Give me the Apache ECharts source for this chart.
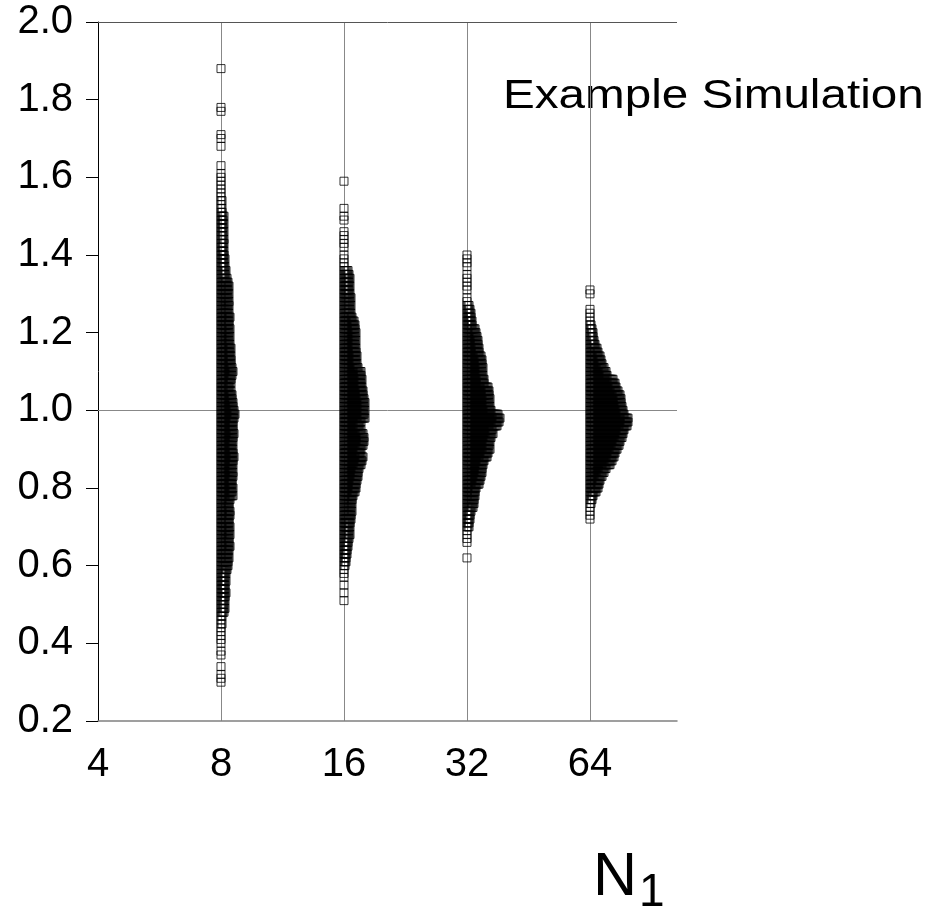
<!DOCTYPE html>
<html>
<head>
<meta charset="utf-8">
<script src="https://cdn.jsdelivr.net/npm/echarts@6/dist/echarts.min.js"></script>
<style>
html,body{margin:0;padding:0;background:#fff;}
#chart{width:930px;height:908px;}
</style>
</head>
<body>
<div id="chart"></div>
<script>
// x categories (N1) and y tick range
const groupsN = [8, 16, 32, 64];
const yTicks = [0.2, 0.4, 0.6, 0.8, 1.0, 1.2, 1.4, 1.6, 1.8, 2.0];
const xTickLabels = [4, 8, 16, 32, 64];
const binWidth = 0.01;

// Histogram counts per 0.01 bin, going downward from the top value
const n8Top = 1.88;
const n8Counts = [
  1, 0,0,0,0,0,0,0,0,0, 1,1, 0,0,0,0,0, 1,1,0,1, 0,0,0,0,
  1,0,1,1,1,1,1,1,1,2,1,2,2,
  4,3,4,3,4,3,4,4,3,4,4,5,4,5,
  6,5,7,8,9,8,9,8,9,9,8,9,10,9,9,10,9,10,9,10,11,10,11,11,11,12,13,12,11,11,9,11,12,12,13,13,14,
  15,14,13,13,13,14,13,13,12,13,13,14,13,13,12,13,13,12,12,13,12,13,
  10,9,9,10,10,9,9,10,9,10,9,9,10,9,8,9,8,8,7,6,5,6,5,5,6,5,5,4,5,4,
  2,1,2,1,1,1,1,1,0,1,1,0,0,1,0,1,1,1
];
const n16Top = 1.59;
const n16Counts = [
  1, 0,0,0,0,0,0,
  1,0,1,1,0,0,1,1,1,1,1,0,1,1,1,1,
  5,6,7,6,7,6,7,8,7,8,7,8,9,
  11,12,12,13,12,13,12,13,13,14,13,14,15,
  18,18,19,18,19,20,20,
  21,22,21,22,21,22,
  18,16,18,20,21,21,20,18,17,20,19,18,
  16,15,15,14,13,13,12,
  10,9,9,8,9,8,8,7,7,6,7,6,
  5,5,4,4,3,3,2,
  1,1,1,0,1,0,1,0,1
];
const n32Top = 1.40;
const n32Counts = [
  1,1,1,1,0,1,1,1,1,1,0,1,1,
  3,4,5,5,6,6,
  9,10,11,12,12,13,13,
  15,16,16,17,16,17,18,18,
  22,23,23,24,23,24,25,
  32,34,33,31,
  26,27,25,
  24,23,24,22,21,
  18,17,16,16,15,14,13,
  10,9,9,8,8,7,
  5,4,4,3,3,
  1,1,1,1,0,0,0,1
];
const n64Top = 1.31;
const n64Counts = [
  1,1,0,0,0,1,1,1,1,
  2,3,4,4,5,6,
  8,9,11,12,13,
  15,17,18,
  24,26,27,
  29,31,32,32,33,
  34,35,
  39,39,38,
  35,34,33,
  31,30,28,
  26,25,23,21,
  17,15,13,
  11,10,9,7,
  4,3,2,1,1,1,1
];

const groupTops = [n8Top, n16Top, n32Top, n64Top];
const groupCounts = [n8Counts, n16Counts, n32Counts, n64Counts];

const STACK_STEP = 1; // px between stacked markers

function buildData(n, top, counts) {
  const out = [];
  counts.forEach((c, i) => {
    const y = +(top - i * binWidth).toFixed(2);
    for (let k = 0; k < c; k++) {
      out.push({ value: [n, y], symbolOffset: [k * STACK_STEP, 0] });
    }
  });
  return out;
}

const FONT = '"Liberation Sans", Arial, Helvetica, sans-serif';

const series = groupsN.map((n, gi) => {
  const s = {
    type: 'scatter',
    name: 'N' + n,
    symbol: 'rect',
    symbolSize: 8,
    large: false,
    progressive: 0,
    silent: true,
    itemStyle: { color: 'rgba(0,0,0,0)', borderColor: '#000', borderWidth: 1 },
    data: buildData(n, groupTops[gi], groupCounts[gi]),
    z: 3
  };
  if (gi === 0) {
    s.markLine = {
      silent: true,
      symbol: 'none',
      label: { show: false },
      lineStyle: { color: '#888', width: 1, type: 'solid' },
      data: [
        { yAxis: 1.0 },
        { yAxis: 2.0, lineStyle: { color: '#555', width: 1, type: 'solid' } }
      ],
      z: 1
    };
  }
  return s;
});

const chart = echarts.init(document.getElementById('chart'), null, { renderer: 'canvas' });
chart.setOption({
  animation: false,
  backgroundColor: '#fff',
  grid: { left: 98, top: 22, right: 253, bottom: 187, containLabel: false },
  xAxis: {
    type: 'log',
    logBase: 2,
    min: 4,
    max: 104.5,
    axisLine: { show: true, lineStyle: { color: '#808080', width: 1.5 } },
    axisTick: { show: false },
    axisLabel: {
      show: true,
      color: '#000',
      fontFamily: FONT,
      fontSize: 40,
      margin: 24,
      showMinLabel: true,
      showMaxLabel: false,
      formatter: v => {
        const r = Math.round(v);
        return xTickLabels.indexOf(r) >= 0 ? String(r) : '';
      }
    },
    splitLine: { show: true, showMinLine: false, showMaxLine: false, lineStyle: { color: '#888', width: 1 } }
  },
  yAxis: {
    type: 'value',
    min: yTicks[0],
    max: yTicks[yTicks.length - 1],
    interval: 0.2,
    axisLine: { show: true, lineStyle: { color: '#000', width: 1 } },
    axisTick: { show: true, length: 12, lineStyle: { color: '#000', width: 1 } },
    axisLabel: {
      color: '#000',
      fontFamily: FONT,
      fontSize: 40,
      margin: 25,
      formatter: v => v.toFixed(1)
    },
    splitLine: { show: false }
  },
  graphic: [
    {
      type: 'text',
      x: 503, y: 97,
      scaleX: 1.19,
      style: { text: 'Example Simulation', font: '40px ' + FONT, fill: '#000', textAlign: 'left', textVerticalAlign: 'middle' }
    },
    {
      type: 'text',
      x: 593, y: 878,
      style: { text: 'N', font: '61px ' + FONT, fill: '#000', textAlign: 'left', textVerticalAlign: 'middle' }
    },
    {
      type: 'text',
      x: 639, y: 893,
      style: { text: '1', font: '46px ' + FONT, fill: '#000', textAlign: 'left', textVerticalAlign: 'middle' }
    }
  ],
  series: series
});
</script>
</body>
</html>
